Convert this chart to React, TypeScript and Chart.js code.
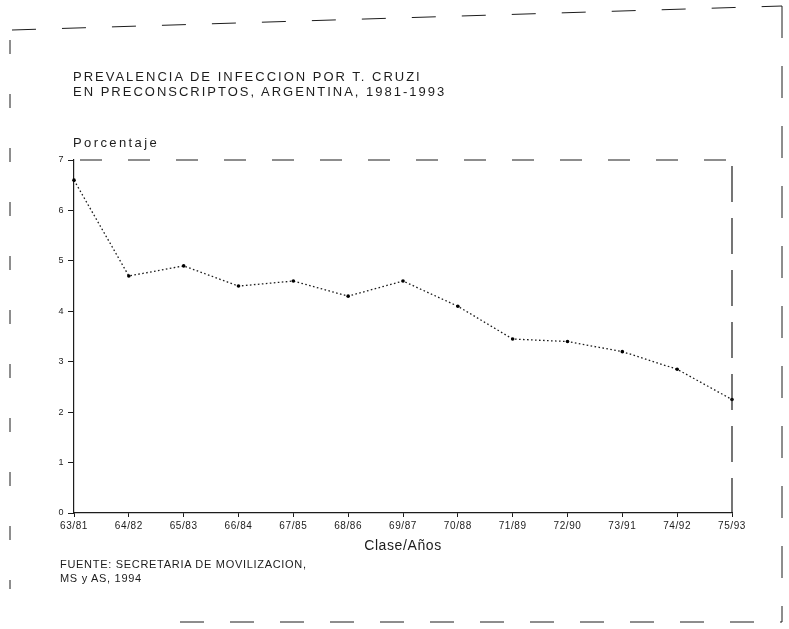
import React, { useEffect, useRef } from "react";
import { Chart, registerables } from "chart.js";

Chart.register(...registerables);

const titleLines = [
  "PREVALENCIA DE INFECCION POR T. CRUZI",
  "EN PRECONSCRIPTOS, ARGENTINA, 1981-1993",
];
const yAxisLabel = "Porcentaje";
const xAxisLabel = "Clase/Años";
const sourceLines = ["FUENTE: SECRETARIA DE MOVILIZACION,", "MS y AS, 1994"];

const categories = [
  "63/81", "64/82", "65/83", "66/84", "67/85", "68/86", "69/87",
  "70/88", "71/89", "72/90", "73/91", "74/92", "75/93",
];
const prevalence = [6.6, 4.7, 4.9, 4.5, 4.6, 4.3, 4.6, 4.1, 3.45, 3.4, 3.2, 2.85, 2.25];
const yMin = 0;
const yMax = 7;
const yStep = 1;

const INK = "#1c1c1c";
const FONT = "'Liberation Sans', Arial, sans-serif";

function dashedLine(ctx: any, x1: number, y1: number, x2: number, y2: number, dash: number[]) {
  ctx.setLineDash(dash);
  ctx.beginPath();
  ctx.moveTo(x1, y1);
  ctx.lineTo(x2, y2);
  ctx.stroke();
}

const framePlugin = {
  id: "frameBox",
  beforeDraw(chart: any) {
    chart.ctx.letterSpacing = "0.6px";
  },
  afterDraw(chart: any) {
    const { ctx, chartArea, width, height } = chart;
    ctx.save();
    ctx.strokeStyle = INK;
    ctx.lineWidth = 1.2;
    // top and right dashed edges of the plot box
    dashedLine(ctx, chartArea.left + 6, chartArea.top, chartArea.right, chartArea.top, [22, 26]);
    dashedLine(ctx, chartArea.right, chartArea.top + 6, chartArea.right, chartArea.bottom, [36, 16]);
    // outer dashed frame of the page
    ctx.lineWidth = 1;
    dashedLine(ctx, 12, 30, width - 7, 6, [24, 26]);
    dashedLine(ctx, 10, 40, 10, height - 40, [14, 40]);
    dashedLine(ctx, width - 7, 6, width - 7, height - 7, [32, 28]);
    dashedLine(ctx, 180, height - 7, width - 7, height - 7, [24, 26]);
    ctx.restore();
  },
};

export default function App() {
  const ref = useRef<HTMLCanvasElement | null>(null);

  useEffect(() => {
    if (!ref.current) return;
    const chart = new Chart(ref.current, {
      type: "line",
      data: {
        labels: categories,
        datasets: [
          {
            data: prevalence,
            borderColor: INK,
            borderWidth: 1.3,
            borderDash: [1.6, 2.4],
            pointRadius: 1.8,
            pointBackgroundColor: "#000",
            pointBorderWidth: 0,
            tension: 0,
            fill: false,
          },
        ],
      },
      options: {
        responsive: false,
        animation: false,
        layout: { padding: { left: 40, top: 160, right: 57, bottom: 71 } },
        plugins: {
          legend: { display: false },
          tooltip: { enabled: false },
          title: { display: false },
        },
        scales: {
          x: {
            type: "category",
            offset: false,
            grid: {
              display: true,
              drawOnChartArea: false,
              drawTicks: true,
              tickLength: 4,
              color: INK,
            },
            border: { display: true, color: INK, width: 1.2, dash: [26, 29], dashOffset: 4 },
            ticks: {
              color: INK,
              font: { family: FONT, size: 10 },
              padding: 3,
              maxRotation: 0,
              autoSkip: false,
            },
            title: {
              display: true,
              text: xAxisLabel,
              color: INK,
              font: { family: FONT, size: 14 },
              padding: { top: 4, bottom: 3 },
            },
            afterFit: (s: any) => {
              s.height = 45;
            },
          },
          y: {
            min: yMin,
            max: yMax,
            ticks: {
              stepSize: yStep,
              color: INK,
              font: { family: FONT, size: 9 },
              padding: 4,
            },
            grid: {
              display: true,
              drawOnChartArea: false,
              drawTicks: true,
              tickLength: 6,
              color: INK,
            },
            border: { display: true, color: INK, width: 1.2, dash: [2, 2] },
            afterFit: (s: any) => {
              s.width = 34;
            },
          },
        },
      },
      plugins: [framePlugin],
    });
    return () => chart.destroy();
  }, []);

  const textBase: React.CSSProperties = {
    position: "absolute",
    fontFamily: FONT,
    color: INK,
    whiteSpace: "nowrap",
    lineHeight: 1,
  };

  return (
    <div
      style={{
        position: "absolute",
        left: 0,
        top: 0,
        width: 789,
        height: 629,
        background: "#fff",
        overflow: "hidden",
      }}
    >
      <canvas ref={ref} width={789} height={629} style={{ position: "absolute", left: 0, top: 0 }} />
      <div style={{ ...textBase, left: 73, top: 70, fontSize: 13, letterSpacing: "2px" }}>{titleLines[0]}</div>
      <div style={{ ...textBase, left: 73, top: 85, fontSize: 13, letterSpacing: "2px" }}>{titleLines[1]}</div>
      <div style={{ ...textBase, left: 73, top: 136, fontSize: 13, letterSpacing: "2.4px" }}>{yAxisLabel}</div>
      <div style={{ ...textBase, left: 60, top: 559, fontSize: 11, letterSpacing: "0.7px" }}>{sourceLines[0]}</div>
      <div style={{ ...textBase, left: 60, top: 573, fontSize: 11, letterSpacing: "0.7px" }}>{sourceLines[1]}</div>
    </div>
  );
}
